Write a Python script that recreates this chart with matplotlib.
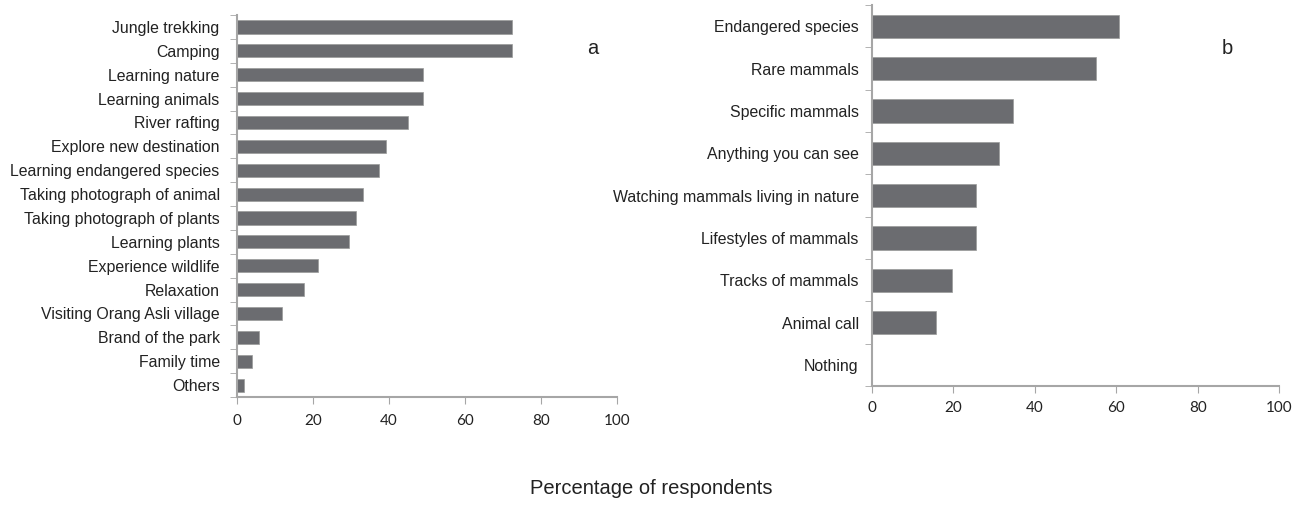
import matplotlib.pyplot as plt
import numpy as np

plt.rcParams['font.family'] = ['Liberation Sans', 'DejaVu Sans']

# panel a: activities
activities = [
    "Jungle trekking", "Camping", "Learning nature", "Learning animals",
    "River rafting", "Explore new destination", "Learning endangered species",
    "Taking photograph of animal", "Taking photograph of plants",
    "Learning plants", "Experience wildlife", "Relaxation",
    "Visiting Orang Asli village", "Brand of the park", "Family time", "Others",
]
activity_pct = [72.4, 72.4, 49.0, 49.0, 45.0, 39.1, 37.2, 33.2, 31.3,
                29.4, 21.4, 17.5, 11.7, 5.8, 3.9, 1.8]

# panel b: what visitors want to see
interests = [
    "Endangered species", "Rare mammals", "Specific mammals",
    "Anything you can see", "Watching mammals living in nature",
    "Lifestyles of mammals", "Tracks of mammals", "Animal call", "Nothing",
]
interest_pct = [60.7, 55.0, 34.7, 31.3, 25.5, 25.5, 19.7, 15.6, 0.0]

xticks = [0, 20, 40, 60, 80, 100]

BAR = "#6b6c70"
AXIS = "#a6a6a6"

fig = plt.figure(figsize=(13.03, 5.12), dpi=100)
ax_a = fig.add_axes([0.1819, 0.2246, 0.2919, 0.746])
ax_b = fig.add_axes([0.6692, 0.246, 0.3126, 0.744])


def draw_panel(ax, labels, values, tag, label_pad, tick_pad):
    n = len(labels)
    pos = np.arange(n)[::-1]
    ax.barh(pos, values, height=0.55, color=BAR, edgecolor="#9a9a9a",
            linewidth=0.5)
    ax.set_xlim(0, 100)
    ax.set_ylim(-0.5, n - 0.5)
    ax.set_yticks(pos)
    ax.set_yticklabels(labels, fontsize=11.4, color="#222222")
    ax.set_yticks(np.arange(n + 1) - 0.5, minor=True)
    ax.tick_params(axis="y", which="major", length=0, pad=label_pad)
    ax.tick_params(axis="y", which="minor", length=5, color=AXIS,
                   direction="out")
    ax.set_xticks(xticks)
    ax.set_xticklabels([str(t) for t in xticks], fontsize=11,
                       family=["Lato", "DejaVu Sans"], color="#222222")
    ax.tick_params(axis="x", length=5, color=AXIS, pad=tick_pad)
    for side in ("top", "right"):
        ax.spines[side].set_visible(False)
    for side in ("left", "bottom"):
        ax.spines[side].set_color(AXIS)
        ax.spines[side].set_linewidth(1.5)
    ax.text(0.935, 0.912, tag, transform=ax.transAxes, fontsize=14.5,
            ha="center", va="center", color="#222222")


draw_panel(ax_a, activities, activity_pct, "a", 12.5, 7.5)
draw_panel(ax_b, interests, interest_pct, "b", 9.5, 5.5)
ax_b.texts[0].set_position((0.872, 0.887))

fig.text(0.5, 0.045, "Percentage of respondents", fontsize=14.5,
         ha="center", va="center", color="#222222")

fig.savefig("out.png", dpi=100)
